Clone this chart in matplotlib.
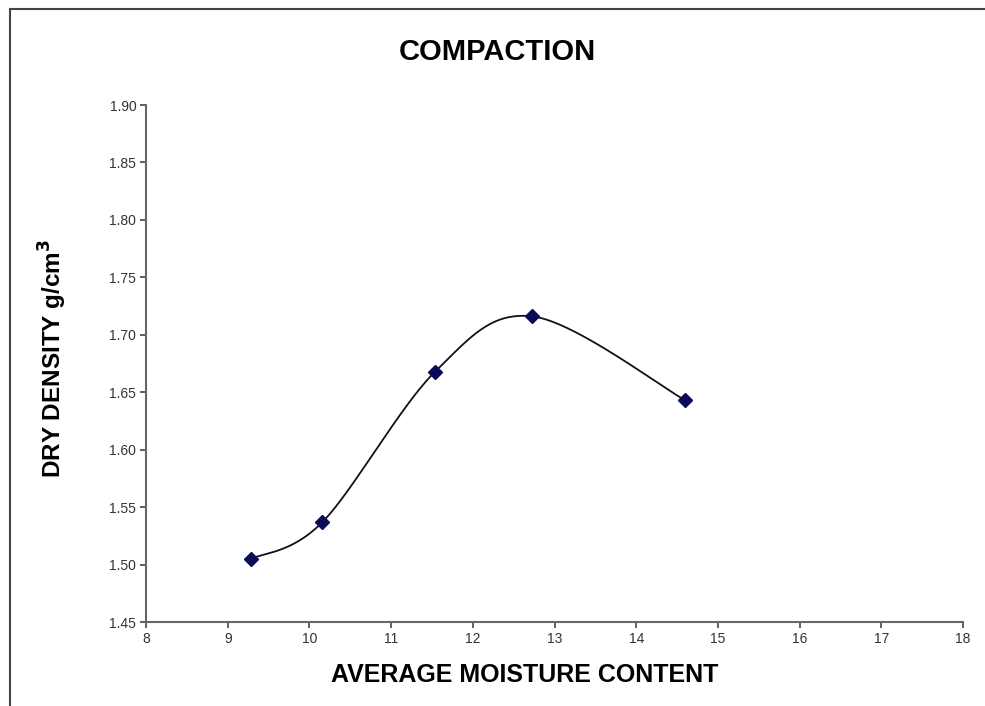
import numpy as np
import matplotlib
matplotlib.use("Agg")
import matplotlib.pyplot as plt
from matplotlib.patches import Rectangle

moisture = [9.29, 10.16, 11.54, 12.73, 14.60]
density = [1.505, 1.537, 1.668, 1.716, 1.643]
x_ticks = list(range(8, 19))
y_ticks = [1.45, 1.50, 1.55, 1.60, 1.65, 1.70, 1.75, 1.80, 1.85, 1.90]

plt.rcParams['font.family'] = ['Liberation Sans', 'DejaVu Sans']

W, H = 985, 706
fig = plt.figure(figsize=(W / 100, H / 100), dpi=100)
fig.patch.set_facecolor('white')

# outer chart border
fig.patches.append(Rectangle((10 / W, -0.1), 1.2, 1 - 9 / H + 0.1, transform=fig.transFigure,
                             fill=False, edgecolor='#444444', linewidth=1.5))

ax = fig.add_axes([146 / W, 1 - 622 / H, (963 - 146) / W, (622 - 105) / H])


def smooth(pts, n=60):
    # Excel-style smoothed line: Catmull-Rom Bezier, end points duplicated
    pts = np.asarray(pts, float)
    p = np.vstack([pts[0], pts, pts[-1]])
    t = np.linspace(0, 1, n)[:, None]
    out = []
    for i in range(1, len(p) - 2):
        p0, p3 = p[i], p[i + 1]
        c1 = p0 + (p[i + 1] - p[i - 1]) / 6
        c2 = p3 - (p[i + 2] - p[i]) / 6
        b = (1 - t) ** 3 * p0 + 3 * (1 - t) ** 2 * t * c1 + 3 * (1 - t) * t ** 2 * c2 + t ** 3 * p3
        out.append(b)
    out = np.vstack(out)
    return out[:, 0], out[:, 1]


xr = (8, 18)
yr = (1.45, 1.90)
# smooth in display-proportional space so curvature matches the drawing
pw, ph = 817.0, 517.0
pts = [((xv - xr[0]) / (xr[1] - xr[0]) * pw, (yv - yr[0]) / (yr[1] - yr[0]) * ph)
       for xv, yv in zip(moisture, density)]
sx, sy = smooth(pts)
cx = xr[0] + sx / pw * (xr[1] - xr[0])
cy = yr[0] + sy / ph * (yr[1] - yr[0])
ax.plot(cx, cy, color='#111111', linewidth=1.3, zorder=2)
ax.plot(moisture, density, linestyle='none', marker='D', markersize=7,
        color='#0b0b55', zorder=3)

ax.set_xlim(*xr)
ax.set_ylim(*yr)
ax.set_xticks(x_ticks)
ax.set_yticks(y_ticks)
ax.set_xticklabels([str(v) for v in x_ticks])
ax.set_yticklabels([f"{v:.2f}" for v in y_ticks])
for s in ['top', 'right']:
    ax.spines[s].set_visible(False)
for s in ['left', 'bottom']:
    ax.spines[s].set_color('#666666')
    ax.spines[s].set_linewidth(1.5)
ax.tick_params(axis='both', direction='out', length=4, width=1.2, color='#444444',
               labelsize=10, labelcolor='#333333', pad=3)

fig.text(525 / W, 1 - 675 / H, 'AVERAGE MOISTURE CONTENT', fontsize=18, fontweight='bold',
         ha='center', va='center')
fig.text(53 / W, 1 - 358 / H, 'DRY DENSITY g/cm$^\\mathbf{3}$', fontsize=17.5, fontweight='bold',
         ha='center', va='center', rotation=90)
fig.text(497 / W, 1 - 52 / H, 'COMPACTION', fontsize=21, fontweight='bold',
         ha='center', va='center')

fig.savefig('out.png', dpi=100, facecolor='white')
